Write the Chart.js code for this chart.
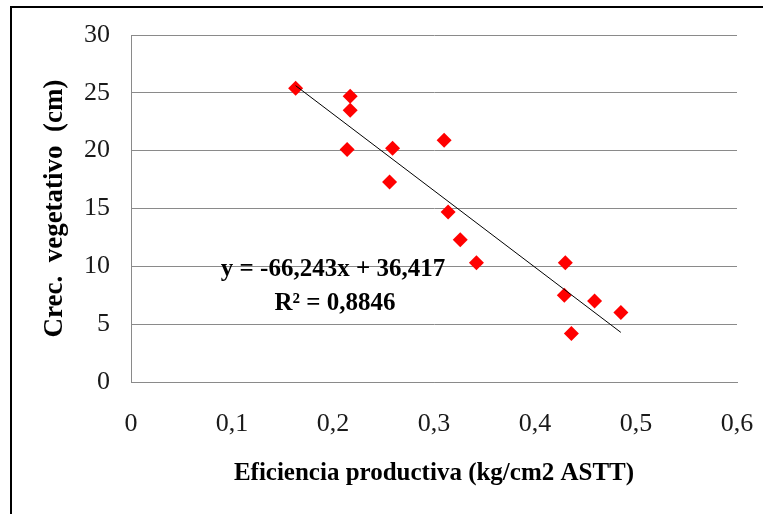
<!DOCTYPE html>
<html>
<head>
<meta charset="utf-8">
<script src="https://cdn.jsdelivr.net/npm/chart.js@4/dist/chart.umd.min.js"></script>
<style>
  html, body { margin: 0; padding: 0; background: #fff; }
  #wrap { width: 763px; height: 514px; }
</style>
</head>
<body>
<div id="wrap"><canvas id="c" width="763" height="514"></canvas></div>
<script>
// Data
const xValues = [0.163, 0.217, 0.217, 0.214, 0.259, 0.256, 0.310, 0.314, 0.326, 0.342, 0.430, 0.429, 0.436, 0.459, 0.485];
const yValues = [25.4, 24.7, 23.5, 20.1, 20.2, 17.3, 20.9, 14.7, 12.3, 10.3, 10.3, 7.5, 4.2, 7.0, 6.0];
const xTickLabels = ['0', '0,1', '0,2', '0,3', '0,4', '0,5', '0,6'];
const yTickLabels = ['0', '5', '10', '15', '20', '25', '30'];
const trendSlope = -66.243;
const trendIntercept = 36.417;
const equationLines = ['y = -66,243x + 36,417', 'R\u00B2 = 0,8846'];
const xTitle = 'Eficiencia productiva (kg/cm2 ASTT)';
const yTitle = 'Crec.  vegetativo  (cm)';

const points = xValues.map((x, i) => ({ x: x, y: yValues[i] }));
const xMin = Math.min(...xValues), xMax = Math.max(...xValues);
const trend = [
  { x: xMin, y: trendSlope * xMin + trendIntercept },
  { x: xMax, y: trendSlope * xMax + trendIntercept }
];

const SERIF = '"Liberation Serif", "Times New Roman", serif';
const gridColor = '#8a8a8a';

const framePlugin = {
  id: 'frame',
  beforeDraw(chart) {
    const ctx = chart.ctx;
    ctx.save();
    ctx.fillStyle = '#ffffff';
    ctx.fillRect(0, 0, chart.width, chart.height);
    ctx.fillStyle = '#000000';
    ctx.fillRect(10, 6, chart.width - 10, 2);
    ctx.fillRect(10, 6, 2, chart.height - 6);
    ctx.restore();
  },
  afterDraw(chart) {
    const ctx = chart.ctx;
    const xs = chart.scales.x, ys = chart.scales.y;
    ctx.save();
    ctx.fillStyle = '#000000';
    ctx.font = 'bold 25px ' + SERIF;
    ctx.textAlign = 'center';
    ctx.textBaseline = 'middle';
    const cx = xs.getPixelForValue(0.2);
    ctx.fillText(equationLines[0], cx, ys.getPixelForValue(9.7));
    ctx.fillText(equationLines[1], cx + 2, ys.getPixelForValue(6.8));
    ctx.restore();
  }
};

new Chart(document.getElementById('c'), {
  type: 'scatter',
  data: {
    datasets: [
      {
        type: 'line',
        data: trend,
        borderColor: '#000000',
        borderWidth: 1,
        pointRadius: 0,
        fill: false,
        tension: 0
      },
      {
        data: points,
        pointStyle: 'rectRot',
        pointRadius: 7.5,
        backgroundColor: '#ff0000',
        borderColor: '#ff0000',
        borderWidth: 0
      }
    ]
  },
  options: {
    responsive: false,
    animation: false,
    events: [],
    layout: { padding: { top: 35, right: 26, bottom: 0, left: 0 } },
    plugins: { legend: { display: false }, tooltip: { enabled: false } },
    scales: {
      x: {
        type: 'linear',
        min: 0, max: 0.6,
        afterFit(scale) { scale.height = 132; scale.paddingLeft = 0; scale.paddingRight = 0; },
        grid: { display: false, drawTicks: false },
        border: { display: true, color: gridColor, width: 1 },
        ticks: {
          stepSize: 0.1,
          autoSkip: false,
          maxRotation: 0,
          padding: 27,
          color: '#1a1a1a',
          font: { family: SERIF, size: 26 },
          callback: (v, i) => xTickLabels[i]
        },
        title: {
          display: true,
          text: xTitle,
          color: '#000000',
          font: { family: SERIF, size: 25, weight: 'bold' },
          padding: { top: 0, bottom: 25 }
        }
      },
      y: {
        type: 'linear',
        min: 0, max: 30,
        afterFit(scale) { scale.width = 131; scale.paddingTop = 0; scale.paddingBottom = 0; },
        grid: { color: gridColor, lineWidth: 1, drawTicks: false },
        border: { display: true, color: gridColor, width: 1 },
        ticks: {
          stepSize: 5,
          autoSkip: false,
          padding: 21,
          color: '#1a1a1a',
          font: { family: SERIF, size: 26 },
          callback: (v, i) => yTickLabels[i]
        },
        title: {
          display: true,
          text: yTitle,
          color: '#000000',
          font: { family: SERIF, size: 27, weight: 'bold' },
          padding: { top: 39, bottom: 0 }
        }
      }
    }
  },
  plugins: [framePlugin]
});
</script>
</body>
</html>
